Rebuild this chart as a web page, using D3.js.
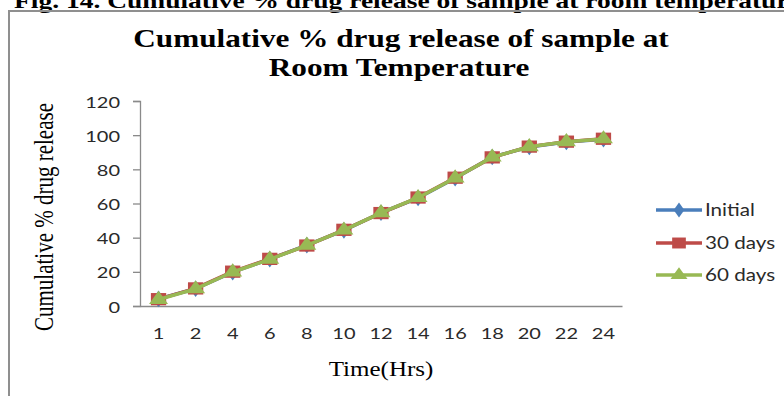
<!DOCTYPE html>
<html>
<head>
<meta charset="utf-8">
<script src="https://cdn.jsdelivr.net/npm/d3@7/dist/d3.min.js"></script>
<style>
  html, body { margin: 0; padding: 0; background: #fff; }
  svg { display: block; }
</style>
</head>
<body>
<svg id="chart" width="784" height="396"></svg>
<script>
// Sampling times (hours) and cumulative % release for each storage interval
const times = ["1", "2", "4", "6", "8", "10", "12", "14", "16", "18", "20", "22", "24"];
const initialRelease = [4.2, 10.1, 19.8, 27.4, 35.6, 44.3, 54.6, 63.2, 74.8, 87.2, 93.1, 96.0, 97.6];
const days30Release  = [4.0, 10.3, 20.1, 27.6, 35.4, 44.6, 54.4, 63.5, 75.1, 87.0, 93.3, 96.2, 97.9];
const days60Release  = [3.8, 10.0, 19.9, 27.3, 35.5, 44.4, 54.5, 63.4, 74.9, 87.1, 93.2, 96.1, 97.8];
const seriesNames = ["Initial", "30 days", "60 days"];
const yTicks = [0, 20, 40, 60, 80, 100, 120];

const colors = ["#4a7ebb", "#be4b48", "#98b954"];
const symbols = [d3.symbolDiamond, d3.symbolSquare, d3.symbolTriangle];
const seriesData = [initialRelease, days30Release, days60Release];

const SX = 1.25; // horizontal stretch applied to text and markers
const svg = d3.select("#chart");

// Text helper: places a horizontally stretched label
function label(parent, x, y, txt, opts) {
  const t = parent.append("text")
    .attr("transform", `translate(${x},${y}) scale(${SX},1)` + (opts.rotate ? ` rotate(${opts.rotate})` : ""))
    .attr("text-anchor", opts.anchor || "start")
    .attr("font-family", opts.family)
    .attr("font-size", opts.size)
    .attr("font-weight", opts.weight || "normal")
    .attr("fill", opts.fill || "#000")
    .text(txt);
  return t;
}

const serif = "'Liberation Serif', 'Times New Roman', serif";
const sans = "Lato, 'Open Sans', sans-serif";

// Figure caption along the top edge
label(svg, 14, 8, "Fig. 14. Cumulative % drug release of sample at room temperature",
  { family: serif, size: 22, weight: "bold" });

// Chart frame
svg.append("path")
  .attr("d", "M9,396 V11 H784")
  .attr("fill", "none")
  .attr("stroke", "#8f8f8f")
  .attr("stroke-width", 2);

// Title
label(svg, 401, 47, "Cumulative % drug release of sample at", { family: serif, size: 25, weight: "bold", anchor: "middle" });
label(svg, 399, 76, "Room Temperature", { family: serif, size: 25, weight: "bold", anchor: "middle" });

// Scales
const x = d3.scaleBand().domain(times).range([140, 622]);
const y = d3.scaleLinear().domain([0, 120]).range([306, 101]);

// Y axis
const yAxis = svg.append("g")
  .attr("transform", "translate(140,0)")
  .call(d3.axisLeft(y).tickValues(yTicks).tickSize(7).tickPadding(0).tickFormat(d3.format("d")));
yAxis.select(".domain").attr("stroke", "#8a8a8a").attr("stroke-width", 1.3);
yAxis.selectAll(".tick line").attr("stroke", "#8a8a8a").attr("stroke-width", 1.3);
yAxis.selectAll(".tick text")
  .attr("x", null).attr("dy", null)
  .attr("transform", `translate(-20,6) scale(${SX},1)`)
  .attr("font-family", sans).attr("font-size", 16).attr("fill", "#2a2a2a");

// X axis
const xAxis = svg.append("g")
  .attr("transform", "translate(0,306)")
  .call(d3.axisBottom(x).tickSize(0).tickPadding(0).tickSizeOuter(0));
xAxis.select(".domain").attr("stroke", "#8a8a8a").attr("stroke-width", 1.3);
xAxis.selectAll(".tick text")
  .attr("y", null).attr("dy", null)
  .attr("transform", `translate(0,33) scale(${SX},1)`)
  .attr("font-family", sans).attr("font-size", 16).attr("fill", "#2a2a2a");

// Axis titles
label(svg, 53, 217, "Cumulative % drug release", { family: serif, size: 21, anchor: "middle", rotate: -90 });
label(svg, 381, 376, "Time(Hrs)", { family: serif, size: 20, anchor: "middle" });

// Series lines and markers
const line = d3.line()
  .x((d, i) => x(times[i]) + x.bandwidth() / 2)
  .y(d => y(d));

const markerSize = [80, 150, 100];
seriesData.forEach((vals, s) => {
  const g = svg.append("g");
  g.append("path")
    .attr("d", line(vals))
    .attr("fill", "none")
    .attr("stroke", colors[s])
    .attr("stroke-width", 3.5)
    .attr("stroke-linejoin", "round");
  g.selectAll("path.m")
    .data(vals)
    .join("path")
    .attr("class", "m")
    .attr("d", d3.symbol().type(symbols[s]).size(markerSize[s]))
    .attr("transform", (d, i) => `translate(${x(times[i]) + x.bandwidth() / 2},${y(d)}) scale(${SX},1)`)
    .attr("fill", colors[s]);
});

// Legend
const legendY = [210, 243, 275];
seriesNames.forEach((name, s) => {
  const g = svg.append("g");
  g.append("line")
    .attr("x1", 656).attr("x2", 702)
    .attr("y1", legendY[s]).attr("y2", legendY[s])
    .attr("stroke", colors[s]).attr("stroke-width", 3.5);
  g.append("path")
    .attr("d", d3.symbol().type(symbols[s]).size(markerSize[s] * 0.8))
    .attr("transform", `translate(679,${legendY[s]}) scale(${SX},1)`)
    .attr("fill", colors[s]);
  label(g, 705, legendY[s] + 6, name, { family: sans, size: 16.5, fill: "#2a2a2a" });
});
</script>
</body>
</html>
